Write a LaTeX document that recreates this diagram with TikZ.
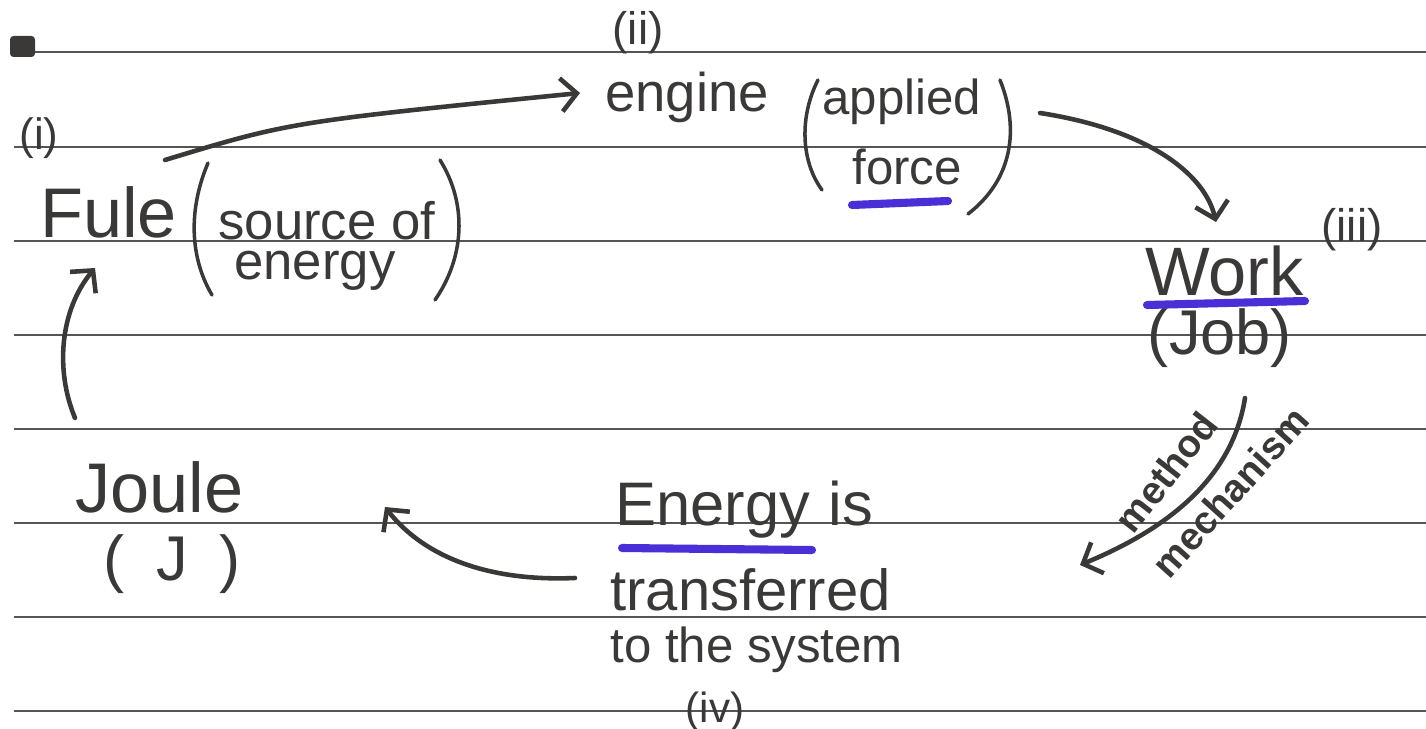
\documentclass[tikz,border=0pt]{standalone}
\usepackage{fontspec}
\setmainfont{Liberation Sans}
\usetikzlibrary{arrows.meta, positioning, calc}
\definecolor{InkGray}{HTML}{3B3838}
\definecolor{RuleGray}{HTML}{555555}
\definecolor{MarkerBlue}{HTML}{4A2FD6}

\begin{document}
\begin{tikzpicture}[x=0.02cm, y=-0.02cm, >={Straight Barb[length=9pt, width=19pt]},
  hand/.style={color=InkGray, inner sep=0pt},
  flow/.style={->, color=InkGray, line width=2.6pt, line cap=round},
  marker/.style={color=MarkerBlue, line width=4.6pt, line cap=round},
  paren/.style={color=InkGray, line width=2pt, line cap=round}]
\useasboundingbox (0,0) rectangle (1426,729);

% Ruled paper
\foreach \ry in {52,147,241,335,429,523,617,711}
  \draw[RuleGray, line width=0.7pt] (14,\ry) -- (1426,\ry);
\fill[InkGray, rounded corners=2pt] (10,36) rectangle (35,57);

% Step (i): fuel
\node[hand, font=\fontsize{25pt}{30pt}\selectfont] (lbl-i) at (39,138) {(i)};
\node[hand, font=\fontsize{40pt}{48pt}\selectfont, anchor=base west] (fule) at (40,238) {Fule};
\node[hand, font=\fontsize{30pt}{36pt}\selectfont, anchor=base west] (source) at (218,240) {source of};
\node[hand, font=\fontsize{30pt}{36pt}\selectfont, anchor=base west] (energy-a) at (234,280) {energy};
\draw[paren] (208,163) .. controls (188,210) and (190,258) .. (212,295);
\draw[paren] (440,160) .. controls (468,205) and (464,258) .. (435,300);

% Step (ii): engine
\node[hand, font=\fontsize{26pt}{30pt}\selectfont] (lbl-ii) at (638,33) {(ii)};
\node[hand, font=\fontsize{31pt}{36pt}\selectfont, anchor=base west] (engine) at (605,112) {engine};
\node[hand, font=\fontsize{28pt}{34pt}\selectfont, anchor=base west] (applied) at (822,115) {applied};
\node[hand, font=\fontsize{28pt}{34pt}\selectfont, anchor=base west] (force) at (852,185) {force};
\draw[paren] (818,80) .. controls (800,115) and (800,160) .. (822,190);
\draw[paren] (1000,80) .. controls (1020,130) and (1012,180) .. (968,214);
\draw[marker] (852,205) -- (948,201);

% Step (iii): work
\node[hand, font=\fontsize{26pt}{30pt}\selectfont] (lbl-iii) at (1352,230) {(iii)};
\node[hand, font=\fontsize{39pt}{46pt}\selectfont, anchor=base west] (work) at (1145,296) {Work};
\node[hand, font=\fontsize{36pt}{42pt}\selectfont, anchor=base] (job) at (1220,355) {(Job)};
\draw[marker] (1147,305) -- (1305,301);

% Step (iv): energy transfer
\node[hand, font=\fontsize{35pt}{42pt}\selectfont, anchor=base west] (energy-b) at (615,525) {Energy\hspace{0.3em}is};
\node[hand, font=\fontsize{33pt}{40pt}\selectfont, anchor=base west] (transf) at (610,610) {transferred};
\node[hand, font=\fontsize{28pt}{34pt}\selectfont, anchor=base west] (system) at (610,662) {to the system};
\node[hand, font=\fontsize{24pt}{28pt}\selectfont] (lbl-iv) at (715,712) {(iv)};
\draw[marker] (622,548) -- (812,550);

% Unit
\node[hand, font=\fontsize{40pt}{48pt}\selectfont, anchor=base west] (joule) at (75,512) {Joule};
\node[hand, font=\fontsize{36pt}{42pt}\selectfont, anchor=base] (unit) at (172,580) {(\hspace{0.5em}J\hspace{0.5em})};

% Cycle arrows
\coordinate (fule-out) at (165,160);
\coordinate (engine-in) at (580,93);
\coordinate (engine-out) at (1040,113);
\coordinate (work-in) at (1216,222);
\coordinate (work-out) at (1245,398);
\coordinate (energy-in) at (1080,565);
\coordinate (energy-out) at (575,578);
\coordinate (joule-in) at (385,507);
\coordinate (joule-out) at (75,418);
\coordinate (fule-in) at (95,268);

\draw[flow] (fule-out) .. controls (290,122) .. (engine-in);
\draw[flow] (engine-out) .. controls (1150,130) and (1205,175) .. (work-in);
\draw[flow] (work-out) .. controls (1232,480) and (1165,530) .. (energy-in);
\draw[flow] (energy-out) .. controls (480,582) and (420,552) .. (joule-in);
\draw[flow] (joule-out) .. controls (55,370) and (60,310) .. (fule-in);

% Arrow labels
\node[hand, font=\fontsize{22pt}{26pt}\selectfont\bfseries, rotate=52] (method) at (1166,472) {method};
\node[hand, font=\fontsize{22pt}{26pt}\selectfont\bfseries, rotate=48] (mech) at (1230,492) {mechanism};
\end{tikzpicture}
\end{document}
